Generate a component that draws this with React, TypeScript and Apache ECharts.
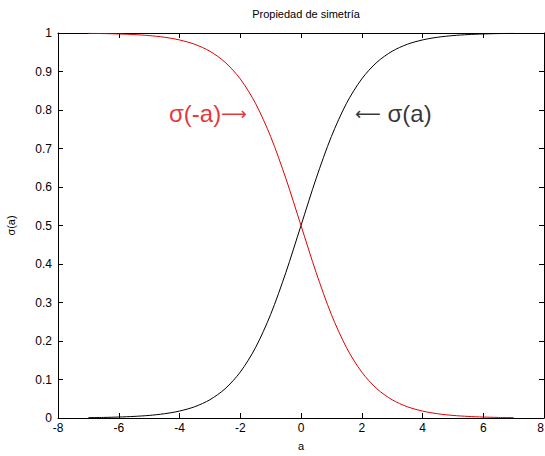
import React, { useEffect, useRef } from "react";
import * as echarts from "echarts";

// Sample positions along the a axis
const aValues = [
  -7, -6.5, -6, -5.5, -5, -4.5, -4, -3.5, -3, -2.5, -2, -1.5, -1, -0.5, 0,
  0.5, 1, 1.5, 2, 2.5, 3, 3.5, 4, 4.5, 5, 5.5, 6, 6.5, 7,
];

// σ(a) – black curve
const sigmaA = [
  0.0009, 0.0015, 0.0025, 0.0041, 0.0067, 0.011, 0.018, 0.0293, 0.0474,
  0.0759, 0.1192, 0.1824, 0.2689, 0.3775, 0.5, 0.6225, 0.7311, 0.8176,
  0.8808, 0.9241, 0.9526, 0.9707, 0.982, 0.989, 0.9933, 0.9959, 0.9975,
  0.9985, 0.9991,
];

// σ(-a) – red curve
const sigmaMinusA = [
  0.9991, 0.9985, 0.9975, 0.9959, 0.9933, 0.989, 0.982, 0.9707, 0.9526,
  0.9241, 0.8808, 0.8176, 0.7311, 0.6225, 0.5, 0.3775, 0.2689, 0.1824,
  0.1192, 0.0759, 0.0474, 0.0293, 0.018, 0.011, 0.0067, 0.0041, 0.0025,
  0.0015, 0.0009,
];

const xTicks = { min: -8, max: 8, interval: 2 };
const yTicks = { min: 0, max: 1, interval: 0.1 };

const titleText = "Propiedad de simetría";
const xName = "a";
const yName = "σ(a)";
const labelRed = { a: -1.78, y: 0.79, text: "σ(-a)", arrow: "⟶" };
const labelBlack = { a: 1.78, y: 0.79, text: "σ(a)", arrow: "⟵" };

const FONT = "'Liberation Sans', Arial, Helvetica, sans-serif";

export default function App() {
  const ref = useRef<HTMLDivElement>(null);

  useEffect(() => {
    if (!ref.current) return;
    const chart = echarts.init(ref.current, undefined, { renderer: "svg" });

    const axisLine = { show: true, onZero: false, lineStyle: { color: "#000", width: 1 } };
    const tick = { show: true, inside: true, length: 5, lineStyle: { color: "#000" } };

    const labelRich = (color: string) => ({
      txt: { color, fontFamily: FONT, fontSize: 24 },
      arr: { color, fontFamily: "'DejaVu Sans', sans-serif", fontSize: 18 },
    });

    chart.setOption({
      animation: false,
      backgroundColor: "#fff",
      title: {
        text: titleText,
        left: 301,
        textAlign: "center",
        top: 3,
        textStyle: { fontFamily: FONT, fontSize: 11, fontWeight: "normal", color: "#000" },
      },
      grid: {
        left: 58,
        right: 1,
        top: 33,
        bottom: 38,
        containLabel: false,
        outerBoundsMode: "none",
      },
      xAxis: [
        {
          type: "value",
          position: "bottom",
          ...xTicks,
          axisLine,
          axisTick: tick,
          splitLine: { show: false },
          axisLabel: {
            color: "#000",
            fontFamily: FONT,
            fontSize: 12,
            margin: 4,
            alignMaxLabel: "right",
          },
          name: xName,
          nameLocation: "middle",
          nameGap: 22,
          nameTextStyle: { color: "#000", fontFamily: FONT, fontSize: 11 },
        },
        {
          type: "value",
          position: "top",
          ...xTicks,
          axisLine,
          axisTick: tick,
          splitLine: { show: false },
          axisLabel: { show: false },
        },
      ],
      yAxis: [
        {
          type: "value",
          position: "left",
          ...yTicks,
          axisLine,
          axisTick: tick,
          splitLine: { show: false },
          axisLabel: {
            color: "#000",
            fontFamily: FONT,
            fontSize: 12,
            margin: 6,
            formatter: (v: number) => String(Math.round(v * 10) / 10),
          },
          name: yName,
          nameLocation: "middle",
          nameGap: 42,
          nameRotate: 90,
          nameTextStyle: { color: "#000", fontFamily: FONT, fontSize: 11 },
        },
        {
          type: "value",
          position: "right",
          ...yTicks,
          axisLine,
          axisTick: tick,
          splitLine: { show: false },
          axisLabel: { show: false },
        },
      ],
      series: [
        {
          type: "line",
          data: aValues.map((a, i) => [a, sigmaA[i]]),
          smooth: 0.3,
          showSymbol: false,
          lineStyle: { color: "#000", width: 1 },
        },
        {
          type: "line",
          data: aValues.map((a, i) => [a, sigmaMinusA[i]]),
          smooth: 0.3,
          showSymbol: false,
          lineStyle: { color: "#e00000", width: 1 },
        },
        {
          type: "scatter",
          symbolSize: 0,
          data: [[labelRed.a, labelRed.y]],
          label: {
            show: true,
            position: "left",
            distance: 0,
            formatter: `{txt|${labelRed.text}}{arr|${labelRed.arrow}}`,
            rich: labelRich("#e00000"),
          },
        },
        {
          type: "scatter",
          symbolSize: 0,
          data: [[labelBlack.a, labelBlack.y]],
          label: {
            show: true,
            position: "right",
            distance: 0,
            formatter: `{arr|${labelBlack.arrow}}{txt| ${labelBlack.text}}`,
            rich: labelRich("#000"),
          },
        },
      ],
    });

    return () => chart.dispose();
  }, []);

  return <div ref={ref} style={{ width: 545, height: 456, position: "absolute", left: 0, top: 0 }} />;
}
